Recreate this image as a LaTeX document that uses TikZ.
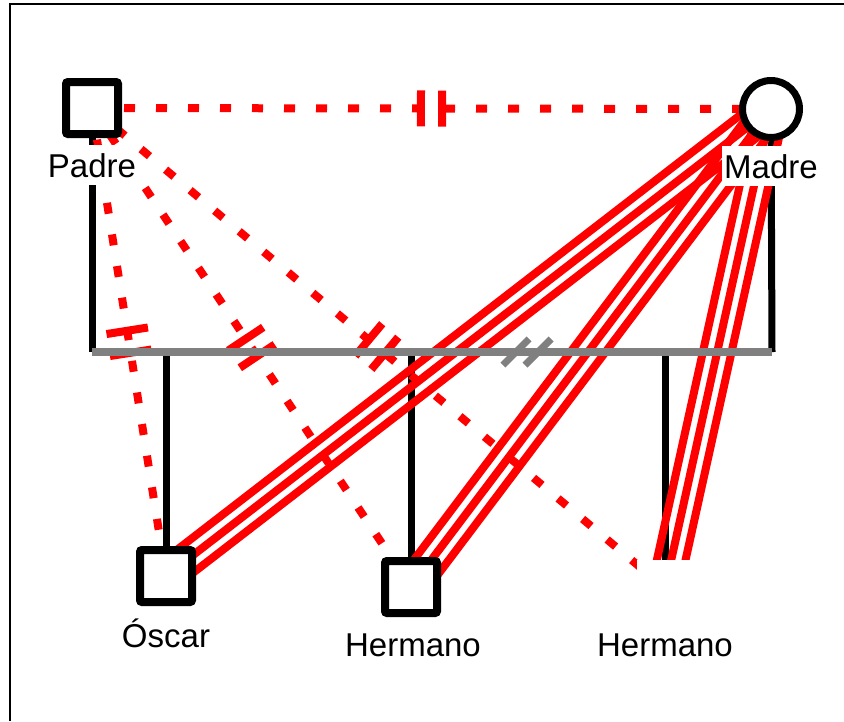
\documentclass[tikz,border=0pt]{standalone}
\usepackage{fontspec}
\setmainfont{Liberation Sans}
\usetikzlibrary{calc,backgrounds}
\begin{document}
\begin{tikzpicture}[x=1pt, y=-1pt, font=\fontsize{33}{40}\selectfont,
	male/.style={draw, line width=8pt, rounded corners=2pt, fill=white,
		minimum size=52pt, inner sep=0pt},
	female/.style={circle, draw, line width=7pt, fill=white,
		minimum size=57pt, inner sep=0pt},
	hidden/.style={fill=white, minimum size=56pt, inner sep=0pt},
	kinname/.style={anchor=base, fill=white, inner xsep=2pt, inner ysep=8pt},
	descent/.style={line width=7pt},
	cutoff/.style={red, line width=8pt, dash pattern=on 11pt off 21pt},
	bar/.style={sloped, fill=red, minimum width=8pt, minimum height=42pt,
		inner sep=0pt},
	fused/.style={red, line width=8pt},
	sibline/.style={gray, line width=8pt},
	slash/.style={fill=gray, rotate=-45, minimum width=7pt,
		minimum height=37pt, inner sep=0pt}]
	\useasboundingbox (0,0) rectangle (844,721);
	\draw[line width=2pt] (10,721) -- (10,4) -- (844,4);
	% persons
	\node[male] (padre) at (92,108) {};
	\node[female] (madre) at (771,109) {};
	\node[male] (oscar) at (166,576) {};
	\node[male] (hermanoA) at (411,587) {};
	\node[hidden] (hermanoB) at (665,588) {};
	\coordinate (sibL) at (92,352);
	\coordinate (sibR) at (772,352);
	% names
	\node[kinname] (padreL) at (92,177) {Padre};
	\node[kinname] (madreL) at (771,178) {Madre};
	\node[kinname] (oscarL) at (166,647) {Óscar};
	\node[kinname] (hermanoAL) at (413,656) {Hermano};
	\node[kinname] (hermanoBL) at (665,656) {Hermano};
	\begin{scope}[on background layer]
		\draw[descent] (padre) -- (sibL);
		\draw[descent] (madre) -- (sibR);
		\foreach \kid in {oscar,hermanoA,hermanoB}
		\draw[descent] (sibL -| \kid) -- (\kid);
		% cut off from the father
		\draw[cutoff] (padre.center) -- (madre.center)
		node[bar, pos=0.4845, minimum height=36pt] {}
		node[bar, pos=0.5155, minimum height=36pt] {};
		\foreach \kid/\pa/\pb in {oscar/0.476/0.523,
			hermanoA/0.482/0.518, hermanoB/0.483/0.511}
		\draw[cutoff] (padre.center) -- (\kid.center)
		node[bar, pos=\pa] {} node[bar, pos=\pb] {};
		% fused with the mother
		\foreach \kid in {oscar,hermanoA,hermanoB}
		\foreach \o in {-14pt,0pt,14pt}
		\draw[fused] ($(madre.center)!\o!90:(\kid.center)$)
		-- ($(\kid.center)!\o!-90:(madre.center)$);
		\draw[sibline] (sibL) -- (sibR)
		node[slash, pos=0.6235] {} node[slash, pos=0.656] {};
	\end{scope}
\end{tikzpicture}
\end{document}
